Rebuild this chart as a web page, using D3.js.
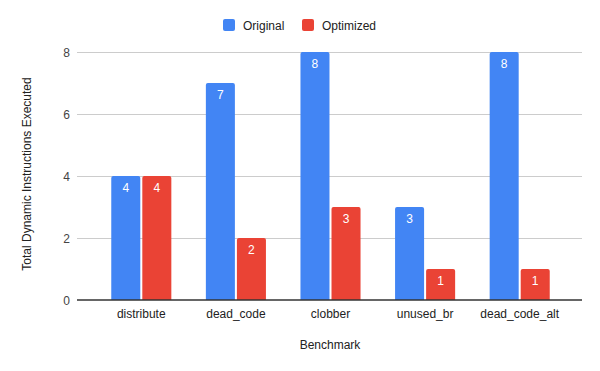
<!DOCTYPE html>
<html><head><meta charset="utf-8">
<script src="https://cdn.jsdelivr.net/npm/d3@7"></script>
<style>body{margin:0;background:#fff}svg{font-family:"Liberation Sans",Arial,sans-serif}</style>
</head><body><svg id="c" width="600" height="371"></svg>
<script>
const categories = ["distribute","dead_code","clobber","unused_br","dead_code_alt"];
const seriesNames = ["Original","Optimized"];
const original = [4,7,8,3,8];
const optimized = [4,2,3,1,1];
const yTicks = [0,2,4,6,8];
const colors = ["#4285f4","#ea4335"];

const svg = d3.select("#c");
const x = d3.scaleBand().domain(categories).range([94,567]).paddingInner(0.365).paddingOuter(0.1825);
const xs = d3.scaleBand().domain(seriesNames).range([0,x.bandwidth()]).paddingInner(0.065);
const y = d3.scaleLinear().domain([0,8]).range([300,52]);

// gridlines
svg.append("g").selectAll("line").data(yTicks.filter(d=>d>0)).join("line")
  .attr("x1",77).attr("x2",582).attr("y1",d=>y(d)+0.5).attr("y2",d=>y(d)+0.5)
  .attr("stroke","#cccccc").attr("stroke-width",1);
// y tick labels
svg.append("g").selectAll("text").data(yTicks).join("text")
  .attr("x",70).attr("y",d=>y(d)+4.5).attr("text-anchor","end")
  .attr("font-size",12).attr("fill","#444").text(d=>d);

const data = categories.map((c,i)=>({c, vals:[{s:"Original",v:original[i],k:0},{s:"Optimized",v:optimized[i],k:1}]}));
const r = 2;
function barPath(x0,w,yt,yb){
  return `M${x0},${yb}V${yt+r}Q${x0},${yt} ${x0+r},${yt}H${x0+w-r}Q${x0+w},${yt} ${x0+w},${yt+r}V${yb}Z`;
}
const g = svg.append("g").selectAll("g").data(data).join("g").attr("transform",d=>`translate(${x(d.c)},0)`);
g.selectAll("path").data(d=>d.vals).join("path")
  .attr("d",d=>barPath(xs(d.s),xs.bandwidth(),y(d.v),y(0)))
  .attr("fill",d=>colors[d.k]);
g.selectAll("text").data(d=>d.vals).join("text")
  .attr("x",d=>xs(d.s)+xs.bandwidth()/2).attr("y",d=>y(d.v)+16)
  .attr("text-anchor","middle").attr("font-size",12).attr("fill","#fff").text(d=>d.v);

// baseline
svg.append("line").attr("x1",77).attr("x2",582).attr("y1",300).attr("y2",300).attr("stroke","#333").attr("stroke-width",1.3);

// x tick labels
svg.append("g").selectAll("text").data(categories).join("text")
  .attr("x",d=>x(d)+x.bandwidth()/2).attr("y",317.5).attr("text-anchor","middle")
  .attr("font-size",12).attr("fill","#222").text(d=>d);

// axis titles
svg.append("text").attr("x",330).attr("y",349).attr("text-anchor","middle").attr("font-size",12).attr("fill","#222").text("Benchmark");
svg.append("text").attr("transform","translate(31,174) rotate(-90)").attr("text-anchor","middle").attr("font-size",12).attr("fill","#222").text("Total Dynamic Instructions Executed");

// legend
const legend = [{n:"Original",x:223,tx:243},{n:"Optimized",x:302,tx:322}];
legend.forEach((l,i)=>{
  svg.append("rect").attr("x",l.x).attr("y",19).attr("width",12).attr("height",12).attr("rx",2).attr("fill",colors[i]);
  svg.append("text").attr("x",l.tx).attr("y",29.5).attr("font-size",12).attr("fill","#222").text(l.n);
});
</script></body></html>
